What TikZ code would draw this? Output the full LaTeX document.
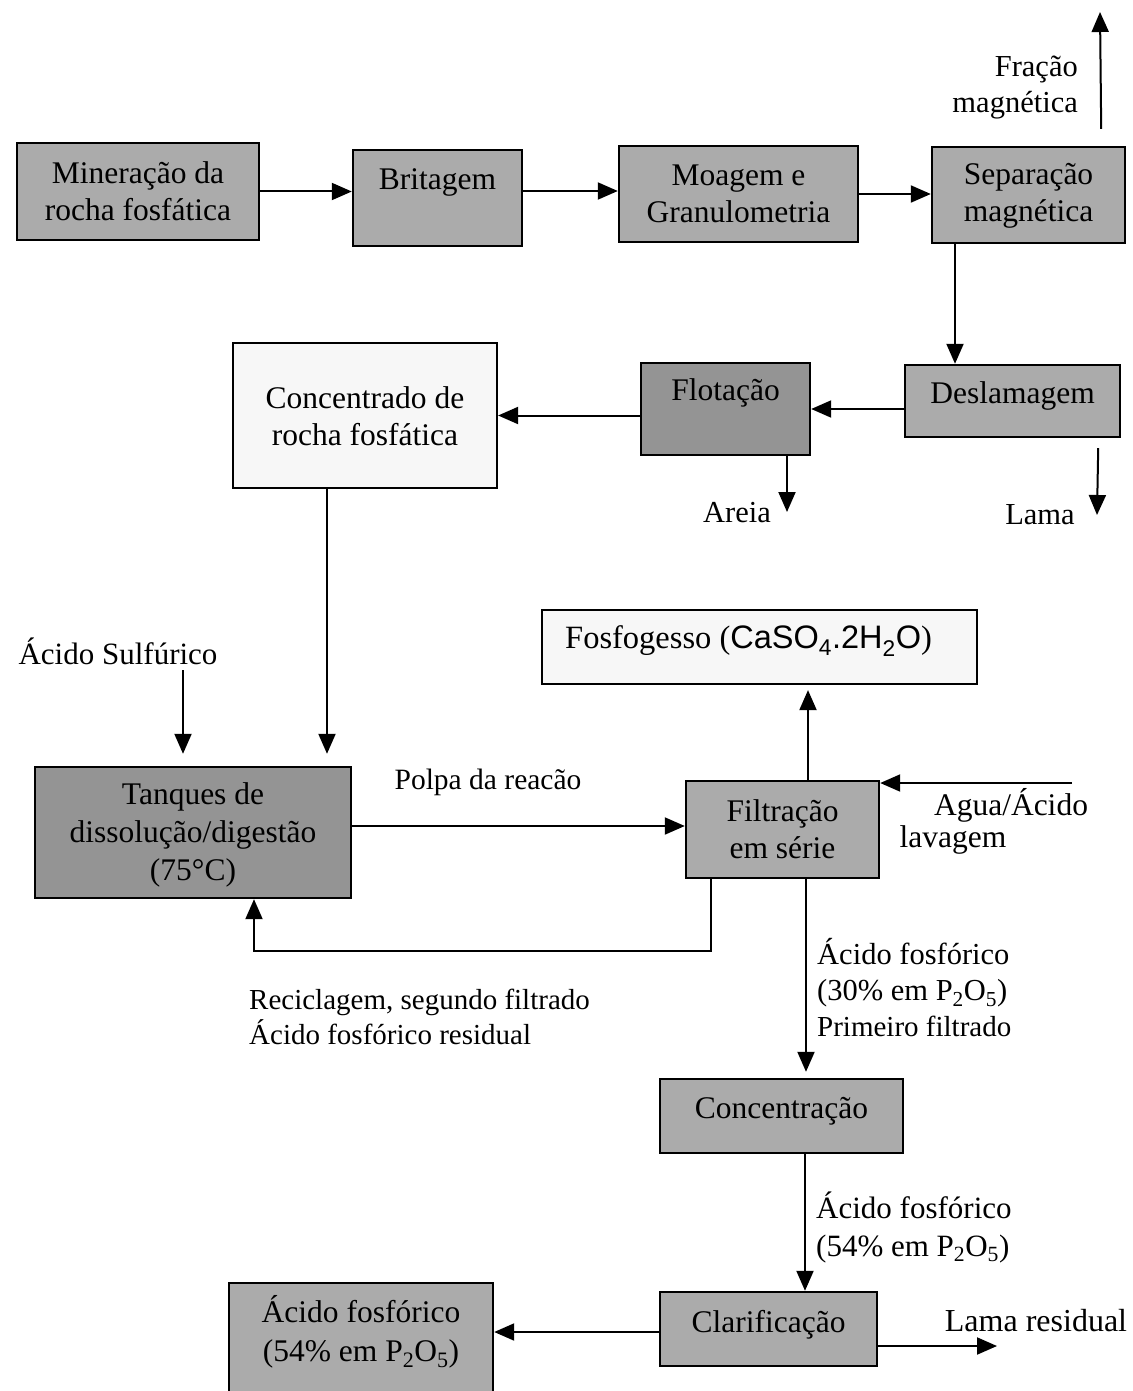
\documentclass[tikz,border=0pt]{standalone}
\usepackage{fontspec}
\setmainfont{Liberation Serif}
\newfontfamily\chemfont{Liberation Sans}
\usetikzlibrary{arrows.meta,calc}
\tikzset{
  proc/.style={draw=black, line width=2.4pt, fill=black!33, inner sep=0pt},
  darkproc/.style={proc, fill=black!42},
  plain/.style={draw=black, line width=2.2pt, fill=black!3, inner sep=0pt},
  txt/.style={font=\fontsize{31.5}{37.5}\selectfont, align=center, inner sep=0pt},
  lbl/.style={font=\fontsize{30.5}{36}\selectfont, inner sep=0pt},
  smalllbl/.style={font=\fontsize{29.5}{36}\selectfont, inner sep=0pt},
  arr/.style={line width=2pt, -{Triangle[length=20pt,width=17pt]}},
}
\begin{document}
\begin{tikzpicture}[x=1pt,y=-1pt]
\useasboundingbox (0,0) rectangle (1132,1391);

% process boxes
\node[proc, minimum width=242pt, minimum height=97pt] (min) at (138,191.5) {};
\node[txt] at (138,191) {Mineração da\\rocha fosfática};
\node[proc, minimum width=169pt, minimum height=96pt] (brit) at (437.5,198) {};
\node[txt] at (437.5,182) {Britagem};
\node[proc, minimum width=239pt, minimum height=96pt] (moag) at (738.5,194) {};
\node[txt] at (738.5,194) {Moagem e\\Granulometria};
\node[proc, minimum width=193pt, minimum height=96pt] (sep) at (1028.5,195) {};
\node[txt] at (1028.5,196) {Separação\\magnética};

\node[proc, minimum width=215pt, minimum height=72pt] (desl) at (1012.5,401) {};
\node[txt] at (1012.5,396) {Deslamagem};
\node[darkproc, minimum width=169pt, minimum height=92pt] (flot) at (725.5,409) {};
\node[txt] at (725.5,393) {Flotação};
\node[plain, minimum width=264pt, minimum height=145pt] (conc) at (365,415.5) {};
\node[txt] at (365,416) {Concentrado de\\rocha fosfática};

\node[plain, minimum width=435pt, minimum height=74pt] (fosf) at (759.5,647) {};
\node[txt, anchor=west, font=\fontsize{32.5}{38}\selectfont] at (565,641) {Fosfogesso (\chemfont CaSO\textsubscript{4}.2H\textsubscript{2}O\rmfamily)};

\node[darkproc, minimum width=316pt, minimum height=131pt] (tanq) at (193,832.5) {};
\node[txt, font=\fontsize{31.5}{38}\selectfont] at (193,835) {Tanques de\\dissolução/digestão\\(75°C)};
\node[proc, minimum width=193pt, minimum height=97pt] (filt) at (782.5,829.5) {};
\node[txt] at (782.5,829) {Filtração\\em série};

\node[proc, minimum width=243pt, minimum height=74pt] (concen) at (781.5,1116) {};
\node[txt] at (781.5,1111) {Concentração};
\node[proc, minimum width=217pt, minimum height=74pt] (clar) at (768.5,1329) {};
\node[txt] at (768.5,1325) {Clarificação};
\node[proc, minimum width=264pt, minimum height=118pt] (acfin) at (361,1342) {};
\node[txt, font=\fontsize{31.5}{39}\selectfont] at (361,1332) {Ácido fosfórico\\(54\% em P\textsubscript{2}O\textsubscript{5})};

% free ends of the open streams
\coordinate (fracEnd) at (1100,12);
\coordinate (areiaEnd) at (787,512);
\coordinate (lamaEnd) at (1097,515);
\coordinate (sulfStart) at (183,670);
\coordinate (aguaStart) at (1072,783);
\coordinate (lresEnd) at (997,1346);

% main ore line
\draw[arr] (min.east) -- (min.east -| brit.west);
\draw[arr] ([yshift=7pt]brit.east) -- ([yshift=7pt]brit.east -| moag.west);
\draw[arr] (moag.east) -- (moag.east -| sep.west);
\draw[arr] ([shift={(-25,-17)}]sep.north east) -- (fracEnd);
\draw[arr] ([xshift=-73.5pt]sep.south) -- ([xshift=-73.5pt]sep.south |- desl.north);
\draw[arr] (flot.east -| desl.west) -- (flot.east);
\draw[arr] (conc.east -| flot.west) -- (conc.east);
\draw[arr] ([xshift=61.5pt]flot.south) -- (areiaEnd);
\draw[arr] ([shift={(-23,10)}]desl.south east) -- (lamaEnd);

% digestion and filtration
\draw[arr, shorten >=12pt] ([xshift=-38pt]conc.south) -- ([xshift=-38pt]conc.south |- tanq.north);
\draw[arr, shorten >=12pt] (sulfStart) -- (sulfStart |- tanq.north);
\draw[arr] ([yshift=3.5pt]filt.west -| tanq.east) -- ([yshift=3.5pt]filt.west);
\draw[arr, shorten >=5pt] ([xshift=25.5pt]filt.north) -- ([xshift=25.5pt]filt.north |- fosf.south);
\draw[arr] (aguaStart) -- (aguaStart -| filt.east);
\draw[arr] ([xshift=-71.5pt]filt.south) -- ++(0,72) -| ([xshift=61pt]tanq.south);
\draw[arr, shorten >=6pt] ([xshift=23.5pt]filt.south) -- ([xshift=23.5pt]filt.south |- concen.north);
\draw[arr] ([xshift=23.5pt]concen.south) -- ([xshift=23.5pt]concen.south |- clar.north);
\draw[arr] ([yshift=-3pt]clar.west) -- ([yshift=-3pt]clar.west -| acfin.east);
\draw[arr] ([yshift=-17pt]clar.east) -- (lresEnd);

% stream labels
\node[lbl, align=right, anchor=east] at (1078,88) {Fração\\magnética};
\node[lbl] at (737,513) {Areia};
\node[lbl] at (1040,515) {Lama};
\node[lbl, font=\fontsize{31}{36}\selectfont] at (118,651) {Ácido Sulfúrico};
\node[smalllbl] at (488,782) {Polpa da reacão};
\node[lbl, font=\fontsize{31.5}{36}\selectfont] at (1011,805) {Agua/Ácido};
\node[lbl, font=\fontsize{31.5}{36}\selectfont] at (953,840) {lavagem};
\node[smalllbl, font=\fontsize{29}{35}\selectfont, align=left, anchor=west] at (249,1017) {Reciclagem, segundo filtrado\\Ácido fosfórico residual};
\node[lbl, align=left, anchor=west] at (817,988) {Ácido fosfórico\\(30\% em P\textsubscript{2}O\textsubscript{5})\\{\fontsize{29}{35}\selectfont Primeiro filtrado}};
\node[lbl, font=\fontsize{31}{38}\selectfont, align=left, anchor=west] at (816,1227) {Ácido fosfórico\\(54\% em P\textsubscript{2}O\textsubscript{5})};
\node[lbl, font=\fontsize{32}{36}\selectfont] at (1036,1321) {Lama residual};
\end{tikzpicture}
\end{document}
